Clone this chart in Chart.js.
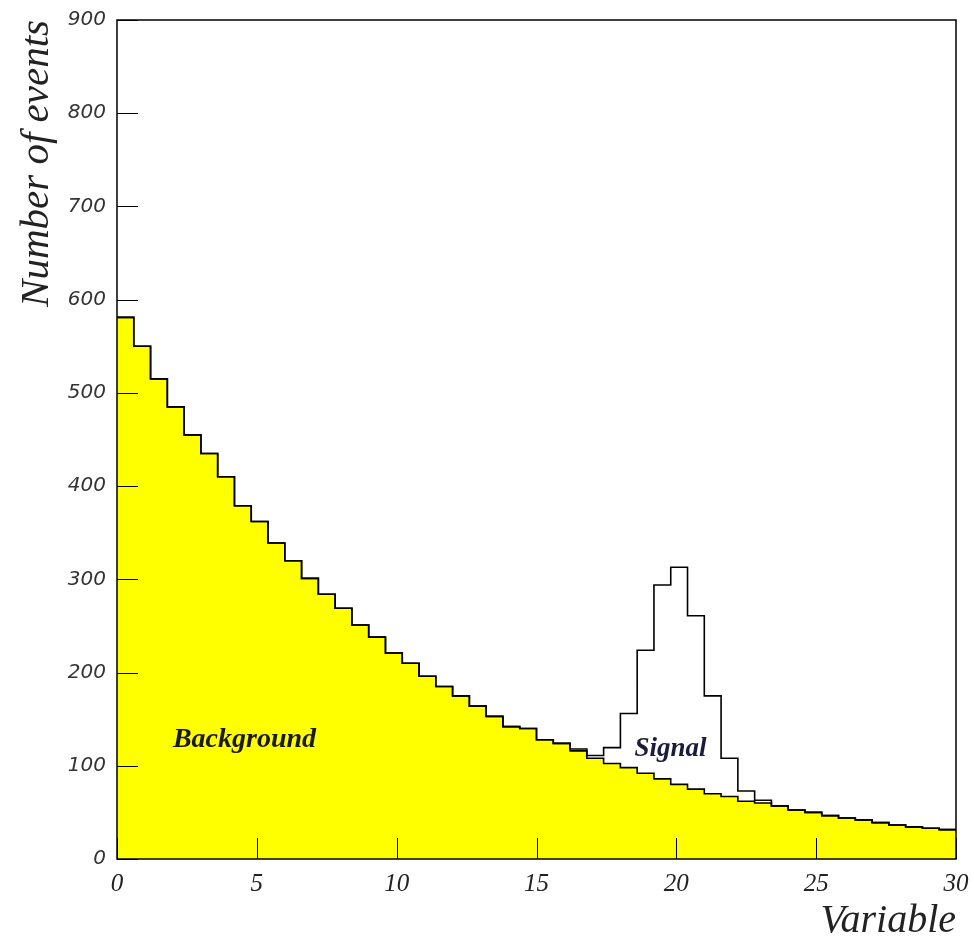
<!DOCTYPE html>
<html>
<head>
<meta charset="utf-8">
<script src="https://cdn.jsdelivr.net/npm/chart.js@4/dist/chart.umd.min.js"></script>
<style>
  html, body { margin: 0; padding: 0; background: #ffffff; }
  #wrap { width: 974px; height: 941px; }
</style>
</head>
<body>
<div id="wrap"><canvas id="c" width="974" height="941"></canvas></div>
<script>
// ---- data ----
const binWidth = 0.6;
const background = [581,550,515,485,455,435,410,379,362,339,
                    320,301,284,269,251,238,221,210,196,185,
                    175,164,153,142,140,128,124,116,108,102.5,
                    98,92,86,80,75,70,67,62,60,57,
                    52.5,50,46.5,44,42,39,36.5,34.5,33,31.5];
const signal = [0,0,0,0,0,0,0,0,0,0,
                0,0,0,0,0,0,0,0,0,0,
                0,0,0,0,0,0,0,2,3,17,
                58,132,208,233,186,105,41,11,3,0,
                0,0,0,0,0,0,0,0,0,0];
const xTicks = [0,5,10,15,20,25,30];
const yTicks = [0,100,200,300,400,500,600,700,800,900];
const labels = [
  { text: 'Background', x: 2.0, y: 128, color: '#1a1a1a', size: 28 },
  { text: 'Signal', x: 18.5, y: 118, color: '#1c1c3a', size: 27 }
];

// histogram step points (lower bin edges + final upper edge)
function histPoints(vals) {
  const pts = vals.map((v, i) => ({ x: +(i * binWidth).toFixed(3), y: v }));
  pts.push({ x: +(vals.length * binWidth).toFixed(3), y: vals[vals.length - 1] });
  return pts;
}
const total = background.map((v, i) => v + signal[i]);

const framePlugin = {
  id: 'frameAndTicks',
  afterDatasetsDraw(chart) {
    const { ctx, chartArea: a, scales } = chart;
    ctx.save();
    ctx.strokeStyle = '#000';
    ctx.lineWidth = 1;
    ctx.beginPath();
    xTicks.forEach(v => {
      const px = Math.round(scales.x.getPixelForValue(v)) + 0.5;
      ctx.moveTo(px, a.bottom);
      ctx.lineTo(px, a.bottom - 21);
    });
    yTicks.forEach(v => {
      const py = Math.round(scales.y.getPixelForValue(v)) + 0.5;
      ctx.moveTo(a.left, py);
      ctx.lineTo(a.left + 21, py);
    });
    ctx.stroke();
    ctx.lineWidth = 1.5;
    ctx.strokeRect(a.left, a.top, a.right - a.left, a.bottom - a.top);
    // text labels
    labels.forEach(l => {
      ctx.font = 'italic bold ' + l.size + 'px "Liberation Serif", "DejaVu Serif", serif';
      ctx.fillStyle = l.color;
      ctx.textAlign = 'left';
      ctx.textBaseline = 'middle';
      ctx.fillText(l.text, scales.x.getPixelForValue(l.x), scales.y.getPixelForValue(l.y));
    });
    ctx.restore();
  }
};

new Chart(document.getElementById('c'), {
  type: 'line',
  data: {
    datasets: [
      {
        label: 'Signal + Background',
        data: histPoints(total),
        stepped: 'before',
        borderColor: '#000',
        borderWidth: 1.6,
        pointRadius: 0,
        fill: false,
        order: 0
      },
      {
        label: 'Background',
        data: histPoints(background),
        stepped: 'before',
        borderColor: '#000',
        borderWidth: 1.6,
        backgroundColor: '#ffff00',
        pointRadius: 0,
        fill: 'origin',
        order: 1
      }
    ]
  },
  options: {
    responsive: false,
    animation: false,
    layout: { padding: { left: 0, right: 18, top: 20, bottom: 0 } },
    plugins: { legend: { display: false }, tooltip: { enabled: false } },
    elements: { line: { tension: 0 } },
    scales: {
      x: {
        type: 'linear',
        min: 0, max: 30,
        afterBuildTicks(s) { s.ticks = xTicks.map(v => ({ value: v })); },
        afterFit(s) { s.height = 82; s.paddingLeft = 0; s.paddingRight = 0; },
        grid: { display: false, drawTicks: false },
        border: { display: false },
        ticks: {
          padding: 10,
          color: '#222',
          font: { family: '"Liberation Serif", serif', style: 'italic', size: 25 }
        },
        title: {
          display: true,
          text: 'Variable',
          align: 'end',
          color: '#222',
          font: { family: '"Liberation Serif", serif', style: 'italic', size: 40, lineHeight: 1 },
          padding: { top: 0, bottom: 0 }
        }
      },
      y: {
        type: 'linear',
        min: 0, max: 900,
        afterBuildTicks(s) { s.ticks = yTicks.map(v => ({ value: v })); },
        afterFit(s) { s.width = 117; s.paddingTop = 0; s.paddingBottom = 0; },
        grid: { display: false, drawTicks: false },
        border: { display: false },
        ticks: {
          padding: 11,
          color: '#333',
          font: { family: '"DejaVu Sans", sans-serif', style: 'italic', size: 20 }
        },
        title: {
          display: true,
          text: 'Number of events',
          align: 'end',
          color: '#222',
          font: { family: '"Liberation Serif", serif', style: 'italic', size: 41, lineHeight: 1 },
          padding: { top: 17, bottom: 0 }
        }
      }
    }
  },
  plugins: [framePlugin]
});
</script>
</body>
</html>
